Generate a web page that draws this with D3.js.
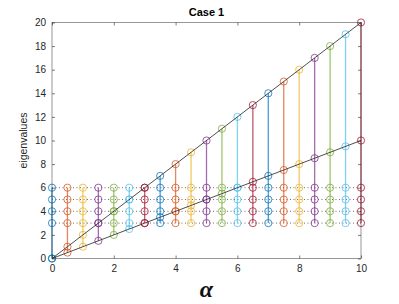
<!DOCTYPE html>
<html><head><meta charset="utf-8">
<script src="https://cdn.jsdelivr.net/npm/d3@7"></script>
<style>body{margin:0;background:#fff}svg{display:block}</style>
</head><body><svg id="c" width="399" height="304"></svg>
<script>
const alphas = [0,0.5,1,1.5,2,2.5,3,3.5,4,4.5,5,5.5,6,6.5,7,7.5,8,8.5,9,9.5,10];
const constEigs = [3,4,5,6];
const xTicks = [0,2,4,6,8,10];
const yTicks = [0,2,4,6,8,10,12,14,16,18,20];
const lineA = [[0,0],[10,10]];
const lineB = [[0,0],[10,20]];
const colors = ["#0072BD","#D95319","#EDB120","#7E2F8E","#77AC30","#4DBEEE","#A2142F"];

const svg = d3.select("#c");
const L=52, R=361, T=22.5, B=258.5;
const x = d3.scaleLinear().domain([0,10]).range([L,R]);
const y = d3.scaleLinear().domain([0,20]).range([B,T]);
const axisCol = "#262626";

// dotted constant lines
constEigs.forEach(v=>{
  svg.append("line").attr("x1",x(0)).attr("x2",x(10)).attr("y1",y(v)).attr("y2",y(v))
    .attr("stroke","#707070").attr("stroke-width",1).attr("stroke-dasharray","1,2.5");
});

// stems + circles
alphas.forEach((a,i)=>{
  const c = colors[i%colors.length];
  const eig = constEigs.concat([a,2*a]);
  const lo = d3.min(eig), hi = d3.max(eig);
  svg.append("line").attr("x1",x(a)).attr("x2",x(a)).attr("y1",y(lo)).attr("y2",y(hi))
    .attr("stroke",c).attr("stroke-width",1.3).attr("stroke-opacity",0.7);
  eig.forEach(v=>{
    svg.append("circle").attr("cx",x(a)).attr("cy",y(v)).attr("r",3.6)
      .attr("fill","none").attr("stroke",c).attr("stroke-width",0.9).attr("stroke-opacity",0.85);
  });
});

// black lines
const ln = d3.line().x(d=>x(d[0])).y(d=>y(d[1]));
[lineA,lineB].forEach(d=>{
  svg.append("path").attr("d",ln(d)).attr("fill","none").attr("stroke","#222").attr("stroke-width",0.8);
});

// axes box
svg.append("rect").attr("x",L).attr("y",T).attr("width",R-L).attr("height",B-T)
  .attr("fill","none").attr("stroke",axisCol).attr("stroke-width",0.6).attr("stroke-opacity",0.8);

const axB = d3.axisBottom(x).tickValues(xTicks).tickSize(-3).tickPadding(6).tickFormat(d3.format("d"));
const axL = d3.axisLeft(y).tickValues(yTicks).tickSize(-3).tickPadding(6).tickFormat(d3.format("d"));
const axT = d3.axisTop(x).tickValues(xTicks).tickSize(-3).tickFormat("");
const axR = d3.axisRight(y).tickValues(yTicks).tickSize(-3).tickFormat("");

function styleAxis(sel){
  sel.select(".domain").remove();
  sel.selectAll("line").attr("stroke",axisCol).attr("stroke-width",0.6);
  sel.selectAll("text").attr("fill",axisCol).attr("font-family","Liberation Sans, Arial, sans-serif").attr("font-size","10px");
}
svg.append("g").attr("transform",`translate(0,${B})`).call(axB).call(styleAxis);
svg.append("g").attr("transform",`translate(${L},0)`).call(axL).call(styleAxis);
svg.append("g").attr("transform",`translate(0,${T})`).call(axT).call(styleAxis);
svg.append("g").attr("transform",`translate(${R},0)`).call(axR).call(styleAxis);

// title
svg.append("text").attr("x",(L+R)/2).attr("y",16).attr("text-anchor","middle")
  .attr("font-family","Liberation Sans, Arial, sans-serif").attr("font-weight","bold").attr("font-size","11px")
  .attr("fill","#000").text("Case 1");
// y label
svg.append("text").attr("transform",`translate(27,${(T+B)/2}) rotate(-90)`).attr("text-anchor","middle")
  .attr("font-family","Liberation Sans, Arial, sans-serif").attr("font-size","10.5px").attr("fill",axisCol).text("eigenvalues");
// x label
svg.append("text").attr("x",(L+R)/2).attr("y",297).attr("text-anchor","middle")
  .attr("font-family","Liberation Serif, Times New Roman, serif").attr("font-style","italic").attr("font-weight","bold")
  .attr("font-size","24px").attr("fill","#111").text("α");
</script></body></html>
